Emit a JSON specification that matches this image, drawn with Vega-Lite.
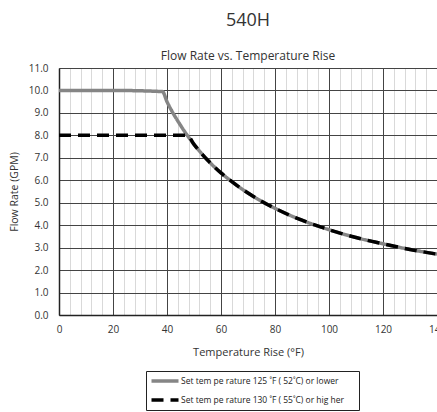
{
  "$schema": "https://vega.github.io/schema/vega-lite/v6.json",
  "autosize": {"type": "none"},
  "width": 378,
  "height": 247,
  "padding": {"left": 59, "top": 68, "right": 0, "bottom": 97},
  "background": "white",
  "config": {
    "font": "Open Sans",
    "view": {"stroke": null}
  },
  "title": {
    "text": "540H",
    "subtitle": "Flow Rate vs. Temperature Rise",
    "fontSize": 18,
    "fontWeight": "normal",
    "color": "#333",
    "subtitleFontSize": 12,
    "subtitleColor": "#333",
    "subtitlePadding": 21,
    "offset": 1,
    "anchor": "middle"
  },
  "data": {
    "values": [
      {"rise": 0, "flow": 10.0, "series": "Set tem  pe rature  125 ˚F ( 52˚C) or    lower"},
      {"rise": 20, "flow": 10.0, "series": "Set tem  pe rature  125 ˚F ( 52˚C) or    lower"},
      {"rise": 38.3, "flow": 9.95, "series": "Set tem  pe rature  125 ˚F ( 52˚C) or    lower"},
      {"rise": 40, "flow": 9.5, "series": "Set tem  pe rature  125 ˚F ( 52˚C) or    lower"},
      {"rise": 45, "flow": 8.45, "series": "Set tem  pe rature  125 ˚F ( 52˚C) or    lower"},
      {"rise": 50, "flow": 7.6, "series": "Set tem  pe rature  125 ˚F ( 52˚C) or    lower"},
      {"rise": 55, "flow": 6.9, "series": "Set tem  pe rature  125 ˚F ( 52˚C) or    lower"},
      {"rise": 60, "flow": 6.33, "series": "Set tem  pe rature  125 ˚F ( 52˚C) or    lower"},
      {"rise": 65, "flow": 5.85, "series": "Set tem  pe rature  125 ˚F ( 52˚C) or    lower"},
      {"rise": 70, "flow": 5.43, "series": "Set tem  pe rature  125 ˚F ( 52˚C) or    lower"},
      {"rise": 75, "flow": 5.07, "series": "Set tem  pe rature  125 ˚F ( 52˚C) or    lower"},
      {"rise": 80, "flow": 4.75, "series": "Set tem  pe rature  125 ˚F ( 52˚C) or    lower"},
      {"rise": 90, "flow": 4.22, "series": "Set tem  pe rature  125 ˚F ( 52˚C) or    lower"},
      {"rise": 100, "flow": 3.8, "series": "Set tem  pe rature  125 ˚F ( 52˚C) or    lower"},
      {"rise": 110, "flow": 3.45, "series": "Set tem  pe rature  125 ˚F ( 52˚C) or    lower"},
      {"rise": 120, "flow": 3.17, "series": "Set tem  pe rature  125 ˚F ( 52˚C) or    lower"},
      {"rise": 130, "flow": 2.92, "series": "Set tem  pe rature  125 ˚F ( 52˚C) or    lower"},
      {"rise": 140, "flow": 2.71, "series": "Set tem  pe rature  125 ˚F ( 52˚C) or    lower"},
      {"rise": 0, "flow": 8.0, "series": "Set tem  pe rature  130 ˚F ( 55˚C) or    hig her"},
      {"rise": 47.5, "flow": 8.0, "series": "Set tem  pe rature  130 ˚F ( 55˚C) or    hig her"},
      {"rise": 50, "flow": 7.6, "series": "Set tem  pe rature  130 ˚F ( 55˚C) or    hig her"},
      {"rise": 55, "flow": 6.9, "series": "Set tem  pe rature  130 ˚F ( 55˚C) or    hig her"},
      {"rise": 60, "flow": 6.33, "series": "Set tem  pe rature  130 ˚F ( 55˚C) or    hig her"},
      {"rise": 65, "flow": 5.85, "series": "Set tem  pe rature  130 ˚F ( 55˚C) or    hig her"},
      {"rise": 70, "flow": 5.43, "series": "Set tem  pe rature  130 ˚F ( 55˚C) or    hig her"},
      {"rise": 75, "flow": 5.07, "series": "Set tem  pe rature  130 ˚F ( 55˚C) or    hig her"},
      {"rise": 80, "flow": 4.75, "series": "Set tem  pe rature  130 ˚F ( 55˚C) or    hig her"},
      {"rise": 90, "flow": 4.22, "series": "Set tem  pe rature  130 ˚F ( 55˚C) or    hig her"},
      {"rise": 100, "flow": 3.8, "series": "Set tem  pe rature  130 ˚F ( 55˚C) or    hig her"},
      {"rise": 110, "flow": 3.45, "series": "Set tem  pe rature  130 ˚F ( 55˚C) or    hig her"},
      {"rise": 120, "flow": 3.17, "series": "Set tem  pe rature  130 ˚F ( 55˚C) or    hig her"},
      {"rise": 130, "flow": 2.92, "series": "Set tem  pe rature  130 ˚F ( 55˚C) or    hig her"},
      {"rise": 140, "flow": 2.71, "series": "Set tem  pe rature  130 ˚F ( 55˚C) or    hig her"}
    ]
  },
  "mark": {"type": "line", "strokeWidth": 3.5, "clip": true, "interpolate": "monotone"},
  "encoding": {
    "x": {
      "field": "rise",
      "type": "quantitative",
      "scale": {"domain": [0, 140], "nice": false},
      "axis": {
        "title": "Temperature Rise (°F)",
        "values": [0,4,8,12,16,20,24,28,32,36,40,44,48,52,56,60,64,68,72,76,80,84,88,92,96,100,104,108,112,116,120,124,128,132,136,140],
        "labelExpr": "datum.value % 20 === 0 ? datum.label : ''",
        "grid": true,
        "gridColor": {"condition": {"test": "datum.value % 20 === 0", "value": "#444"}, "value": "#d9d9d9"},
        "gridWidth": 1,
        "ticks": false,
        "domainColor": "#222",
        "domainWidth": 1.5,
        "labelPadding": 9,
        "labelFontSize": 10,
        "labelColor": "#333",
        "labelFlush": false,
        "titleFontSize": 11,
        "titleFontWeight": "normal",
        "titleColor": "#333",
        "titlePadding": 12
      }
    },
    "y": {
      "field": "flow",
      "type": "quantitative",
      "scale": {"domain": [0, 11], "nice": false},
      "axis": {
        "title": "Flow  Rate  (GPM)",
        "values": [0,1,2,3,4,5,6,7,8,9,10,11],
        "format": ".1f",
        "grid": true,
        "gridColor": "#444",
        "gridWidth": 1,
        "ticks": false,
        "domainColor": "#222",
        "domainWidth": 1.5,
        "labelPadding": 11,
        "labelFontSize": 10,
        "labelColor": "#333",
        "titleFontSize": 10.5,
        "titleFontWeight": "normal",
        "titleColor": "#333",
        "titlePadding": 9
      }
    },
    "color": {
      "field": "series",
      "type": "nominal",
      "scale": {"range": ["#858585", "#000000"]},
      "legend": {
        "title": null,
        "orient": "none",
        "legendX": 87,
        "legendY": 303,
        "strokeColor": "#222",
        "padding": 3,
        "symbolType": "M-2.7,0H2.7",
        "symbolSize": 100,
        "symbolOffset": 9,
        "symbolStrokeWidth": 3.5,
        "labelOffset": 9,
        "labelFontSize": 8.5,
        "labelColor": "#222",
        "rowPadding": 5,
        "labelLimit": 300
      }
    },
    "strokeDash": {
      "field": "series",
      "type": "nominal",
      "scale": {"range": [[1, 0], [12, 7]]}
    }
  }
}
